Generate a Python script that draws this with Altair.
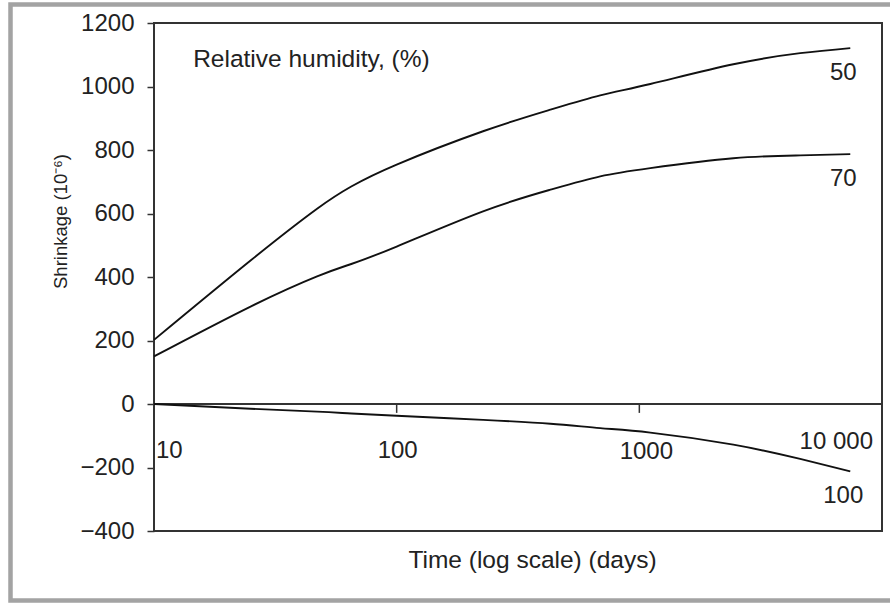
import altair as alt
import pandas as pd

# Shrinkage of concrete against time for three relative humidities
days = [10, 25, 47, 65, 100, 227, 430, 690, 1110, 2440, 4600, 7400]
rh50 = [202, 452, 615, 685, 754, 859, 927, 972, 1008, 1070, 1105, 1121]
rh70 = [150, 307, 402, 441, 496, 607, 675, 717, 743, 774, 783, 787]
rh100 = [0, -15, -24, -30, -37, -50, -62, -76, -90, -128, -173, -212]
humidity = ["50", "70", "100"]

y_ticks = [-400, -200, 0, 200, 400, 600, 800, 1000, 1200]
x_minor_ticks = [100, 1000]

FONT = "Liberation Sans"
INK = "#222222"

rows = []
for name, series in zip(humidity, [rh50, rh70, rh100]):
    for d, v in zip(days, series):
        rows.append({"days": d, "shrinkage": v, "rh": name})
curves = pd.DataFrame(rows)
ends = curves[curves["days"] == days[-1]]

xs = alt.Scale(type="log", domain=[10, 10000], nice=False)
ys = alt.Scale(domain=[-400, 1200], nice=False, zero=False)

x_enc = alt.X(
    "days:Q", scale=xs,
    axis=alt.Axis(labels=False, ticks=False, domain=False, grid=False,
                  title="Time (log scale) (days)", titleFont=FONT,
                  titleFontSize=24.5, titleFontWeight="normal", titleColor=INK,
                  titleX=378, titleY=36, titleBaseline="alphabetic"),
)
y_enc = alt.Y(
    "shrinkage:Q", scale=ys,
    axis=alt.Axis(values=y_ticks, format="d", grid=False, domain=False,
                  tickSize=7, tickWidth=1.5, tickColor="#333333",
                  labelPadding=13, labelFont=FONT, labelFontSize=24,
                  labelColor=INK,
                  title="Shrinkage (10⁻⁶)", titleFont=FONT, titleFontSize=18.5,
                  titleFontWeight="normal", titleColor=INK, titleAngle=-90,
                  titleX=-94, titleY=198, titleAlign="center",
                  titleBaseline="middle"),
)

lines = alt.Chart(curves).mark_line(
    color="#111111", strokeWidth=1.9, interpolate="natural"
).encode(x=x_enc, y=y_enc, detail="rh:N")

curve_labels = alt.Chart(ends).mark_text(
    font=FONT, fontSize=24, color=INK, align="center", baseline="middle",
    dx=-7, dy=25
).encode(x=alt.X("days:Q", scale=xs), y=alt.Y("shrinkage:Q", scale=ys),
         text="rh:N")

# Time axis drawn along the zero line
zero_line = alt.Chart().mark_rule(color="#333333", strokeWidth=1.8).encode(
    x=alt.datum(10, scale=xs), x2=alt.datum(10000), y=alt.datum(0, scale=ys)
)
tick_df = pd.DataFrame({"days": x_minor_ticks})
zero_ticks = alt.Chart(tick_df).mark_rule(color="#333333", strokeWidth=1.5).encode(
    x=alt.X("days:Q", scale=xs), y=alt.datum(0, scale=ys), y2=alt.datum(-28)
)


def tick_label(value, text, align, dx, dy):
    return alt.Chart().mark_text(
        font=FONT, fontSize=24, color=INK, align=align, baseline="middle",
        dx=dx, dy=dy
    ).encode(x=alt.datum(value, scale=xs), y=alt.datum(0, scale=ys),
             text=alt.value(text))


labels_x = (
    tick_label(10, "10", "left", 2, 47)
    + tick_label(100, "100", "center", 1, 47)
    + tick_label(1000, "1000", "center", 7, 48)
    + tick_label(10000, "10 000", "right", -9, 38)
)

legend_note = alt.Chart().mark_text(
    font=FONT, fontSize=24.5, color=INK, align="left", baseline="alphabetic"
).encode(x=alt.datum(14.5, scale=xs), y=alt.datum(1062, scale=ys),
         text=alt.value("Relative humidity, (%)"))

# Outer grey frame around the figure
frame = alt.Chart().mark_rect(
    fill="transparent", stroke="#a3a3a3", strokeWidth=4.5
).encode(x=alt.value(-143.5), x2=alt.value(740), y=alt.value(-18.5),
         y2=alt.value(577.5))

chart = (
    alt.layer(frame, zero_line, zero_ticks, lines, curve_labels, labels_x,
              legend_note)
    .properties(
        width=728, height=508,
        autosize=alt.AutoSizeParams(type="none"),
        padding={"left": 154, "top": 23, "right": 8, "bottom": 72},
        background="white",
    )
    .configure_view(stroke="#333333", strokeWidth=2)
)

chart.save("out.html", embed_options={"renderer": "svg", "actions": False})
